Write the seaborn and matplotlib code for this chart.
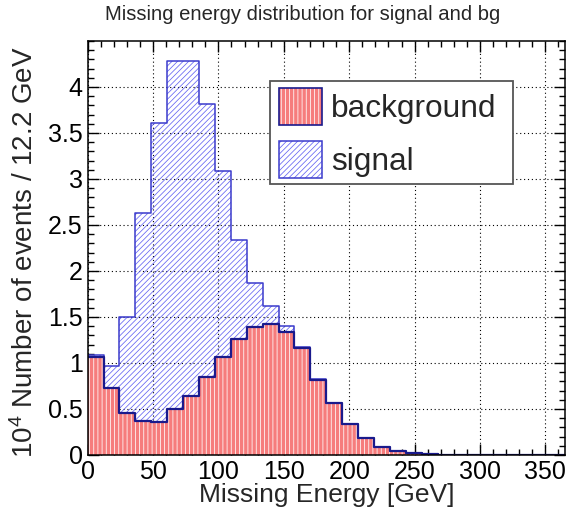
import numpy as np
import pandas as pd
import matplotlib
matplotlib.use("Agg")
import matplotlib.pyplot as plt
import seaborn as sns
from matplotlib.patches import Patch, Rectangle
from matplotlib.legend_handler import HandlerTuple
from matplotlib.ticker import MultipleLocator, FuncFormatter

# ---- data (units of 10^4 events per 12.2 GeV bin) ----
bin_edges = [round(365 / 30 * i, 4) for i in range(31)]
background = [1.06, 0.73, 0.46, 0.37, 0.36, 0.50, 0.64, 0.85, 1.07, 1.26,
              1.39, 1.42, 1.34, 1.16, 0.82, 0.57, 0.34, 0.19, 0.09, 0.04,
              0.02, 0.01, 0.005, 0.003, 0.0, 0.0, 0.0, 0.0, 0.0, 0.0]
signal = [0.03, 0.24, 1.04, 2.26, 3.25, 3.78, 3.64, 2.97, 2.02, 1.08,
          0.48, 0.195, 0.065, 0.01, 0.005, 0.0, 0.0, 0.0, 0.0, 0.0,
          0.0, 0.0, 0.0, 0.0, 0.0, 0.0, 0.0, 0.0, 0.0, 0.0]
series_labels = ["background", "signal"]
x_ticks = [0, 50, 100, 150, 200, 250, 300, 350]

sns.set_style("ticks")
plt.rcParams["font.family"] = ["Liberation Sans", "DejaVu Sans"]
plt.rcParams["mathtext.fontset"] = "custom"
plt.rcParams["mathtext.rm"] = "Liberation Sans"
plt.rcParams["mathtext.it"] = "Liberation Sans"
plt.rcParams["hatch.linewidth"] = 0.55

W, H = 573, 509
fig = plt.figure(figsize=(W / 100, H / 100), dpi=100)
ax = fig.add_axes([87.6 / W, 1 - 455 / H, (565 - 87.6) / W, (455 - 41) / H])

edges = np.asarray(bin_edges)
centers = 0.5 * (edges[:-1] + edges[1:])
df_bg = pd.DataFrame({"energy": centers, "w": background, "series": "background"})
df_sg = pd.DataFrame({"energy": centers, "w": signal, "series": "signal"})
df_tot = pd.concat([df_bg, df_sg], ignore_index=True)

red_face = "#f67c7c"
navy = "#1a1a8c"
blue = "#3a3acc"
hatch_blue = "#6464f2"
sig_hatch = "//////"
bg_hatch = "||||"

# stacked total (signal on top of background): hatch fill
n0 = len(ax.collections)
sns.histplot(data=df_tot, x="energy", weights="w", bins=bin_edges,
             element="step", fill=True, color=hatch_blue, linewidth=0, alpha=1, ax=ax)
for c in ax.collections[n0:]:
    c.set_facecolor("none")
    c.set_edgecolor(hatch_blue)
    c.set_linewidth(0)
    c.set_hatch(sig_hatch)
# stacked total outline
sns.histplot(data=df_tot, x="energy", weights="w", bins=bin_edges,
             element="step", fill=False, color=blue, linewidth=1.1, ax=ax)
# background fill
n0 = len(ax.collections)
sns.histplot(data=df_bg, x="energy", weights="w", bins=bin_edges,
             element="step", fill=True, color=red_face, linewidth=0, alpha=1, ax=ax)
for c in ax.collections[n0:]:
    c.set_facecolor(red_face)
    c.set_edgecolor("white")
    c.set_linewidth(0)
    c.set_hatch(bg_hatch)
# background outline
sns.histplot(data=df_bg, x="energy", weights="w", bins=bin_edges,
             element="step", fill=False, color=navy, linewidth=1.6, ax=ax)

ax.set_xlim(0, 365)
ax.set_ylim(0, 4.5)
ax.set_axisbelow(True)
ax.grid(True, which="major", linestyle=(0, (1, 2.5)), color="black", linewidth=0.8)

ax.xaxis.set_major_locator(MultipleLocator(50))
ax.xaxis.set_minor_locator(MultipleLocator(10))
ax.yaxis.set_major_locator(MultipleLocator(0.5))
ax.yaxis.set_minor_locator(MultipleLocator(0.1))
ax.set_xticks(x_ticks)
ax.set_yticks([0, 0.5, 1, 1.5, 2, 2.5, 3, 3.5, 4])
ax.yaxis.set_major_formatter(FuncFormatter(lambda v, p: f"{v:g}"))
ax.tick_params(which="both", direction="in", top=True, right=True, width=1,
               labelsize=18, colors="black", pad=3.5)
ax.tick_params(which="major", length=8)
ax.tick_params(which="minor", length=4)
for s in ax.spines.values():
    s.set_color("black")
    s.set_linewidth(1.1)

ax.set_xlabel("Missing Energy [GeV]", fontsize=19)
ax.xaxis.set_label_coords(0.5, -0.068)
ax.xaxis.label.set_va("top")
ax.set_ylabel(r"$10^{4}$ Number of events / 12.2 GeV", fontsize=20)
ax.yaxis.label.set_va("center")
ax.yaxis.set_label_coords((25 - 87.6) / 477.4, 0.49)

fig.text(303 / W, 1 - 15 / H, "Missing energy distribution for signal and bg",
         ha="center", va="center", fontsize=14.6)

# legend box (ROOT-style fixed-size frame), drawn inside the axes under the legend
ax.add_patch(Rectangle((270 / W, 1 - 184 / H), (513 - 270) / W, (184 - 81) / H,
                       transform=fig.transFigure, facecolor="white",
                       edgecolor="#555555", linewidth=1.3, zorder=5, clip_on=False))

h_bg = (Patch(facecolor=red_face, edgecolor="white", hatch=bg_hatch, linewidth=0),
        Patch(facecolor="none", edgecolor=navy, linewidth=1.2))
h_sg = (Patch(facecolor="none", edgecolor=hatch_blue, hatch=sig_hatch, linewidth=0),
        Patch(facecolor="none", edgecolor=blue, linewidth=1.1))
leg = ax.legend([h_bg, h_sg], series_labels,
                handler_map={tuple: HandlerTuple(ndivide=1)},
                loc="upper left", bbox_to_anchor=(279 / W, 1 - 88 / H),
                bbox_transform=fig.transFigure, borderaxespad=0,
                fontsize=22.8, handlelength=1.35, handleheight=1.42,
                handletextpad=0.3, borderpad=0, labelspacing=0.5,
                frameon=False)
leg.set_zorder(6)

fig.savefig("out.png", dpi=100)
